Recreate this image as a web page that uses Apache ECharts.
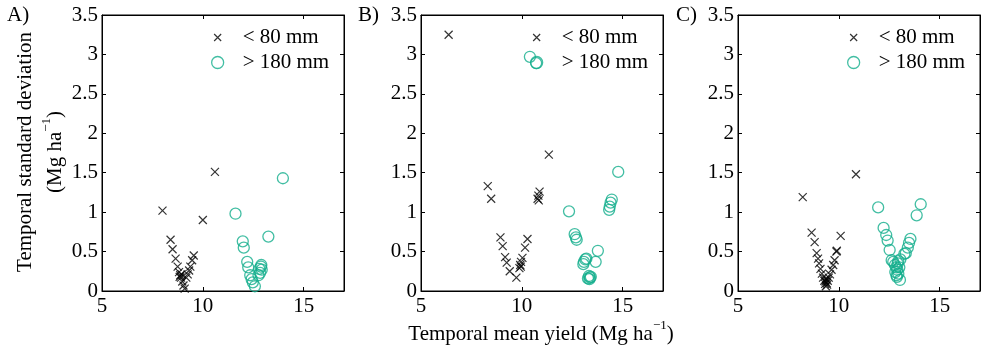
<!DOCTYPE html>
<html><head><meta charset="utf-8">
<script src="https://cdn.jsdelivr.net/npm/echarts@6/dist/echarts.min.js"></script>
<style>html,body{margin:0;padding:0;background:#fff}#c{width:983px;height:353px}</style>
</head><body><div id="c"></div>
<script>
// ---- data ----
const panelLabels = ['A)', 'B)', 'C)'];
const seriesNames = ['< 80 mm', '> 180 mm'];
const xTicks = [5, 10, 15];
const yTicks = [0, 0.5, 1, 1.5, 2, 2.5, 3, 3.5];

const A_low = [[8.0,1.02],[10.6,1.51],[10.0,0.90],[8.4,0.65],[8.5,0.53],[8.65,0.41],[8.75,0.31],[8.82,0.24],[8.88,0.20],[8.85,0.18],[8.92,0.17],[8.95,0.21],[8.98,0.12],[9.04,0.07],[9.1,0.03],[9.55,0.45],[9.47,0.39],[9.38,0.31],[9.32,0.26],[9.25,0.21],[9.18,0.17]];
const A_high = [[13.97,1.43],[11.62,0.98],[13.25,0.69],[11.98,0.63],[12.03,0.55],[12.2,0.37],[12.25,0.30],[12.88,0.31],[12.92,0.27],[12.84,0.23],[12.76,0.20],[12.35,0.20],[12.42,0.15],[12.48,0.11],[12.58,0.06],[12.9,0.33],[12.8,0.28]];

const B_low = [[6.37,3.25],[8.31,1.33],[8.48,1.17],[11.34,1.73],[10.88,1.26],[10.82,1.21],[10.78,1.17],[10.84,1.15],[8.94,0.68],[9.05,0.57],[9.17,0.43],[9.25,0.36],[9.40,0.25],[9.73,0.17],[10.28,0.66],[10.16,0.55],[10.03,0.42],[9.96,0.37],[9.92,0.33],[9.88,0.29],[9.95,0.31]];
const B_high = [[10.40,2.97],[10.71,2.89],[14.78,1.51],[14.46,1.16],[14.4,1.12],[14.36,1.07],[14.33,1.03],[12.34,1.01],[12.62,0.72],[12.68,0.68],[12.72,0.65],[13.77,0.51],[13.66,0.37],[13.15,0.40],[13.08,0.37],[13.05,0.34],[13.2,0.41],[13.33,0.19],[13.38,0.17],[13.28,0.16],[13.42,0.18],[13.35,0.15]];

const C_low = [[8.21,1.19],[10.85,1.48],[8.65,0.74],[8.8,0.62],[8.9,0.48],[8.97,0.41],[9.02,0.35],[9.09,0.28],[9.16,0.22],[9.22,0.17],[9.28,0.13],[9.32,0.09],[9.36,0.06],[9.4,0.10],[9.45,0.13],[9.38,0.15],[9.5,0.17],[9.56,0.21],[9.64,0.27],[9.72,0.33],[9.79,0.39],[9.88,0.50],[9.9,0.51],[10.09,0.70],[9.34,0.12],[9.42,0.08]];
const C_high = [[11.95,1.06],[14.06,1.10],[13.86,0.96],[12.22,0.80],[12.35,0.71],[12.42,0.64],[12.52,0.52],[12.62,0.39],[12.7,0.37],[12.78,0.33],[12.85,0.30],[12.9,0.27],[12.8,0.24],[12.86,0.20],[12.95,0.22],[13.0,0.30],[12.92,0.35],[13.03,0.14],[13.55,0.66],[13.48,0.61],[13.42,0.55],[13.32,0.48],[13.25,0.47],[13.05,0.40],[12.95,0.38],[12.88,0.18]];

const panelsLow = [A_low, B_low, C_low];
const panelsHigh = [A_high, B_high, C_high];

// ---- layout / style ----
const FONT = '"Liberation Serif","Times New Roman",serif';
const FS = 21;
const TEAL = '#13ae8c';
const gridLefts = [102, 421, 738];
const GRID_TOP = 15, GRID_W = 242, GRID_H = 276;
const CROSS = 'path://M0,0L10,10M10,0L0,10';
const CROSS_LEG = 'path://M0,0L0.01,0M12,12L11.99,12M2.5,2.5L9.5,9.5M9.5,2.5L2.5,9.5';

const grids = [], xAxes = [], yAxes = [], series = [], legends = [], graphics = [];
const tickStyle = {show: true, inside: true, length: 4, lineStyle: {color: '#000', width: 1}};
const lineStyle = {show: true, onZero: false, lineStyle: {color: '#000', width: 1}};

for (let i = 0; i < 3; i++) {
  grids.push({left: gridLefts[i], top: GRID_TOP, width: GRID_W, height: GRID_H, containLabel: false,
    show: true, borderColor: '#000', borderWidth: 1, backgroundColor: 'rgba(0,0,0,0)'});
  const xBase = {type: 'value', gridIndex: i, min: xTicks[0], max: 17, interval: 5,
    axisLine: lineStyle, axisTick: tickStyle, splitLine: {show: false}};
  xAxes.push(Object.assign({}, xBase, {position: 'bottom',
    axisLabel: {show: true, color: '#000', fontFamily: FONT, fontSize: FS, margin: 5, showMaxLabel: false}}));
  xAxes.push(Object.assign({}, xBase, {position: 'top', axisLabel: {show: false}}));
  const yBase = {type: 'value', gridIndex: i, min: yTicks[0], max: yTicks[yTicks.length - 1], interval: 0.5,
    axisLine: lineStyle, axisTick: tickStyle, splitLine: {show: false}};
  yAxes.push(Object.assign({}, yBase, {position: 'left',
    axisLabel: {show: true, color: '#000', fontFamily: FONT, fontSize: FS, margin: 4}}));
  yAxes.push(Object.assign({}, yBase, {position: 'right', axisLabel: {show: false}}));

  series.push({type: 'scatter', name: seriesNames[0], xAxisIndex: 2 * i, yAxisIndex: 2 * i,
    data: panelsLow[i], symbol: CROSS, symbolSize: 8,
    itemStyle: {color: 'rgba(0,0,0,0)', borderColor: '#000', borderWidth: 1.2},
    emphasis: {disabled: true}, animation: false});
  series.push({type: 'scatter', name: seriesNames[1], xAxisIndex: 2 * i, yAxisIndex: 2 * i,
    data: panelsHigh[i], symbol: 'circle', symbolSize: 11,
    itemStyle: {color: 'rgba(0,0,0,0)', borderColor: TEAL, borderWidth: 1.3},
    emphasis: {disabled: true}, animation: false});
  // empty helper series so the top/right frame axes are drawn
  series.push({type: 'scatter', name: 'frame' + i, xAxisIndex: 2 * i + 1, yAxisIndex: 2 * i + 1,
    data: [], silent: true, animation: false});

  legends.push({orient: 'vertical', left: gridLefts[i] + 109, top: 26, padding: 0,
    itemWidth: 12, itemHeight: 12, itemGap: 2, selectedMode: false,
    data: [
      {name: seriesNames[0], icon: CROSS_LEG, itemStyle: {color: 'rgba(0,0,0,0)', borderColor: '#000', borderWidth: 1.2}},
      {name: seriesNames[1], icon: 'circle', itemStyle: {color: 'rgba(0,0,0,0)', borderColor: TEAL, borderWidth: 1.3}}
    ],
    textStyle: {color: '#000', fontFamily: FONT, fontSize: FS, lineHeight: 23, padding: [0, 0, 0, 14]}});

  graphics.push({type: 'text', left: [7, 358, 676][i], top: 5,
    style: {text: panelLabels[i], fill: '#000', font: FS + 'px ' + FONT}});
}

const rich = {
  n: {fontFamily: FONT, fontSize: FS, color: '#000', lineHeight: 30},
  s: {fontFamily: FONT, fontSize: 13, color: '#000', verticalAlign: 'top', lineHeight: 30}
};
graphics.push({type: 'text', x: 40, y: 152, rotation: Math.PI / 2,
  style: {text: '{n|Temporal standard deviation}\n{n|(Mg ha}{s|−1}{n|)}', rich: rich,
    align: 'center', verticalAlign: 'middle', fill: '#000'}});
graphics.push({type: 'text', x: 541, y: 334,
  style: {text: '{n|Temporal mean yield (Mg ha}{s|−1}{n|)}', rich: rich,
    align: 'center', verticalAlign: 'middle', fill: '#000'}});

const chart = echarts.init(document.getElementById('c'), null, {renderer: 'canvas'});
chart.setOption({
  animation: false,
  backgroundColor: '#fff',
  grid: grids, xAxis: xAxes, yAxis: yAxes, series: series, legend: legends, graphic: graphics
});
</script></body></html>
